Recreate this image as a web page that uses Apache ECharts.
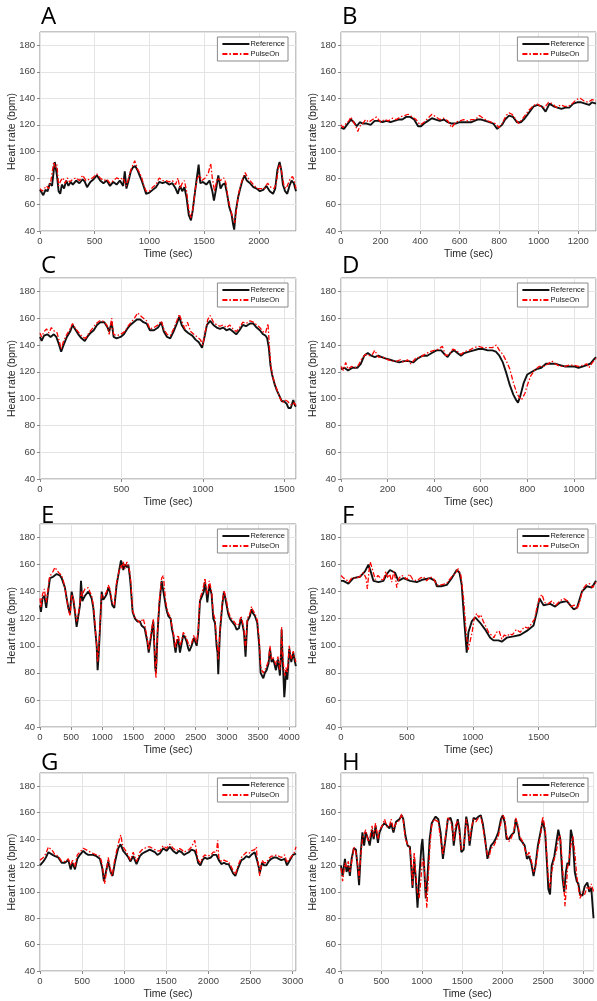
<!DOCTYPE html>
<html>
<head>
<meta charset="utf-8">
<script src="https://cdn.jsdelivr.net/npm/echarts@6/dist/echarts.min.js"></script>
<style>
html,body{margin:0;padding:0;background:#fff;}
#chart{width:597px;height:1001px;}
</style>
</head>
<body>
<div id="chart"></div>
<script>
// Heart-rate recordings: [time (s), bpm]
const refA = [[0,71],[15,69],[30,67],[50,71],[70,70],[90,76],[110,74],[125,85],[135,92],[145,93],[155,82],[170,70],[185,68],[200,75],[220,72],[240,78],[260,74],[280,77],[300,75],[330,78],[360,76],[390,79],[410,77],[430,73],[460,77],[490,79],[520,82],[550,78],[580,76],[610,78],[640,74],[670,77],[700,75],[730,78],[760,74],[775,85],[790,72],[810,78],[830,85],[850,88],[870,89],[890,86],[910,82],[930,78],[950,73],[970,68],[1000,69],[1030,71],[1060,73],[1090,77],[1120,76],[1150,77],[1180,75],[1210,76],[1240,72],[1260,68],[1280,74],[1300,70],[1320,73],[1340,65],[1360,52],[1380,48],[1395,55],[1410,65],[1430,78],[1450,90],[1465,76],[1490,77],[1520,75],[1550,78],[1575,70],[1590,63],[1610,72],[1630,82],[1650,72],[1670,75],[1690,76],[1710,68],[1730,58],[1750,53],[1765,45],[1775,41],[1790,55],[1810,65],[1830,72],[1850,78],[1870,82],[1890,78],[1920,76],[1950,73],[1980,72],[2010,70],[2040,71],[2070,74],[2100,70],[2130,68],[2150,72],[2170,86],[2190,92],[2205,86],[2220,75],[2240,70],[2260,68],[2280,74],[2300,78],[2320,76],[2340,70]];
const pulseA = [[0,72],[20,70],[40,72],[60,74],[80,72],[100,78],[115,86],[125,92],[140,88],[155,90],[170,74],[190,78],[210,80],[230,76],[250,80],[270,77],[300,79],[330,80],[360,78],[390,82],[420,78],[450,79],[480,80],[520,83],[550,80],[580,78],[610,79],[640,76],[670,78],[700,80],[730,79],[760,80],[790,74],[810,80],[830,86],[850,90],[866,93],[890,87],[910,84],[930,80],[950,74],[970,70],[1000,70],[1030,73],[1060,75],[1090,80],[1120,78],[1150,78],[1180,77],[1210,78],[1240,75],[1260,80],[1280,72],[1300,76],[1320,78],[1340,70],[1360,56],[1380,50],[1400,58],[1420,72],[1440,80],[1460,82],[1480,78],[1510,80],[1540,84],[1560,91],[1575,80],[1595,70],[1620,80],[1650,78],[1680,80],[1700,76],[1720,64],[1740,57],[1760,50],[1780,46],[1795,56],[1815,68],[1835,75],[1855,80],[1875,84],[1900,80],[1930,77],[1960,74],[1990,72],[2020,72],[2050,72],[2080,76],[2110,73],[2140,72],[2160,76],[2180,88],[2195,90],[2210,84],[2230,74],[2250,72],[2270,76],[2290,80],[2310,81],[2330,76],[2340,72]];

const refB = [[0,118],[15,117],[30,120],[50,124],[65,122],[80,119],[95,122],[110,121],[130,121],[150,120],[170,123],[190,123],[210,122],[230,123],[250,122],[270,123],[290,124],[310,124],[330,126],[350,126],[370,124],[390,119],[405,119],[420,121],[440,123],[460,125],[480,124],[500,123],[520,124],[540,122],[560,121],[580,121],[600,122],[630,122],[660,122],[690,124],[710,124],[730,123],[750,122],[770,121],[790,117],[800,117],[815,120],[830,124],[850,127],[870,126],[890,122],[910,122],[930,125],[950,129],[975,134],[995,135],[1015,134],[1035,130],[1055,136],[1075,134],[1095,133],[1115,132],[1135,133],[1155,133],[1175,136],[1195,137],[1215,137],[1235,136],[1255,135],[1270,137],[1290,136]];
const pulseB = [[0,120],[10,118],[25,121],[40,123],[50,126],[60,123],[75,119],[85,115],[95,119],[110,121],[125,124],[140,122],[160,124],[180,126],[200,122],[220,124],[240,123],[260,125],[280,124],[300,126],[320,127],[340,128],[360,126],[380,124],[400,120],[420,122],[440,125],[460,128],[480,126],[500,124],[520,125],[540,123],[560,118],[580,122],[600,123],[620,124],[640,123],[660,124],[680,124],[700,127],[720,125],[740,123],[760,122],[780,121],[800,118],[815,121],[835,127],[850,129],[865,128],[880,125],[900,121],[915,124],[930,127],[950,131],[970,134],[990,136],[1010,134],[1030,133],[1050,137],[1070,136],[1090,133],[1110,135],[1130,134],[1150,134],[1170,136],[1190,139],[1210,140],[1230,138],[1250,137],[1270,139],[1290,138]];

const refC = [[0,146],[10,143],[25,147],[45,148],[65,146],[85,148],[100,146],[115,141],[130,135],[145,140],[165,146],[185,150],[200,155],[215,152],[235,148],[255,145],[275,143],[290,146],[310,149],[330,151],[350,155],[370,157],[395,157],[415,153],[425,150],[440,157],[452,146],[470,145],[495,146],[515,148],[535,152],[555,155],[575,157],[595,159],[615,159],[635,157],[655,156],[675,151],[700,151],[725,153],[745,157],[760,150],[780,146],[800,145],[820,150],[840,156],[855,161],[870,155],[890,151],[910,149],[935,147],[955,144],[975,142],[995,138],[1010,146],[1025,155],[1045,158],[1065,155],[1085,153],[1105,152],[1125,153],[1145,151],[1165,152],[1185,150],[1205,148],[1225,151],[1245,155],[1265,154],[1290,156],[1310,156],[1330,153],[1350,151],[1370,148],[1385,147],[1395,145],[1405,138],[1415,125],[1425,118],[1440,111],[1455,106],[1470,102],[1485,98],[1500,98],[1515,96],[1525,93],[1540,93],[1555,99],[1565,95],[1572,94]];
const pulseC = [[0,149],[10,146],[25,150],[40,152],[55,149],[70,153],[90,150],[105,149],[118,143],[130,137],[145,143],[165,148],[185,152],[200,156],[220,152],[240,149],[260,146],[280,145],[300,149],[320,152],[345,156],[365,158],[385,158],[410,155],[425,148],[440,160],[452,148],[470,147],[495,148],[520,150],[540,154],[560,157],[580,160],[600,164],[615,162],[635,160],[655,158],[675,152],[700,153],[725,155],[745,158],[760,152],[780,148],[800,147],[820,152],[840,158],[855,163],[870,158],[890,152],[905,157],[925,150],[945,148],[965,146],[985,144],[1000,140],[1015,150],[1030,159],[1045,162],[1065,157],[1085,155],[1105,154],[1125,155],[1145,153],[1165,155],[1185,152],[1205,150],[1225,153],[1245,157],[1265,156],[1290,158],[1310,157],[1330,155],[1350,153],[1370,150],[1385,149],[1400,156],[1408,140],[1418,124],[1430,116],[1445,110],[1460,105],[1475,100],[1490,97],[1505,99],[1520,98],[1535,96],[1550,95],[1560,97],[1572,95]];

const refD = [[0,122],[15,123],[30,121],[50,123],[70,123],[85,126],[100,132],[115,134],[130,132],[145,131],[160,132],[175,131],[190,130],[210,129],[230,128],[250,127],[270,128],[290,128],[310,127],[330,130],[350,132],[370,132],[390,134],[410,136],[430,136],[445,133],[458,131],[470,134],[485,136],[500,134],[515,132],[530,134],[550,135],[570,136],[590,137],[610,137],[630,136],[650,136],[665,135],[680,132],[695,127],[710,119],[725,110],[740,103],[752,99],[760,97],[770,102],[785,112],[800,118],[820,120],[840,122],[860,123],[880,126],[900,126],[920,126],[940,125],[960,124],[980,124],[1000,124],[1020,123],[1040,124],[1055,125],[1070,126],[1085,129],[1095,131]];
const pulseD = [[0,124],[10,121],[20,127],[30,122],[45,124],[60,123],[75,125],[90,130],[105,133],[120,132],[135,133],[145,136],[160,131],[180,131],[200,129],[220,128],[240,128],[255,129],[270,127],[285,129],[300,126],[320,130],[340,131],[360,133],[380,135],[400,136],[420,137],[435,139],[450,132],[465,133],[480,137],[495,136],[515,133],[530,135],[550,136],[570,138],[590,139],[610,138],[630,138],[650,138],[667,140],[680,136],[695,133],[710,128],[725,122],[740,112],[755,104],[765,101],[775,99],[790,104],[800,110],[815,117],[830,121],[850,124],[870,124],[890,126],[905,128],[920,126],[940,124],[960,124],[980,125],[1000,125],[1020,124],[1040,125],[1055,126],[1065,123],[1080,127],[1095,130]];

const refE = [[0,130],[15,125],[40,135],[70,137],[100,128],[125,138],[160,150],[210,151],[267,153],[320,152],[348,150],[400,143],[428,135],[455,128],[480,124],[508,140],[535,134],[561,125],[588,114],[615,122],[642,130],[658,148],[680,133],[700,135],[722,137],[775,140],[800,138],[829,135],[856,128],[880,115],[910,100],[925,82],[940,92],[960,110],[990,140],[1016,134],[1045,136],[1070,138],[1096,143],[1123,140],[1160,130],[1193,128],[1230,145],[1268,155],[1300,163],[1320,160],[1337,156],[1364,160],[1395,158],[1418,160],[1440,152],[1455,145],[1487,125],[1525,120],[1562,118],[1580,117],[1605,118],[1630,115],[1658,116],[1680,113],[1696,113],[1723,103],[1745,95],[1766,95],[1792,110],[1819,118],[1835,100],[1850,84],[1862,80],[1875,95],[1888,110],[1915,130],[1953,148],[1980,148],[2017,130],[2040,125],[2060,122],[2097,120],[2120,112],[2140,108],[2160,100],[2177,95],[2200,103],[2220,105],[2247,95],[2275,102],[2300,108],[2330,106],[2354,103],[2380,98],[2397,96],[2434,100],[2472,106],[2500,102],[2515,100],[2541,110],[2568,133],[2605,137],[2630,140],[2648,147],[2670,140],[2686,132],[2718,145],[2755,138],[2782,120],[2809,117],[2835,100],[2850,95],[2862,79],[2875,95],[2889,110],[2926,130],[2953,140],[2975,135],[2996,130],[3020,124],[3050,120],[3080,118],[3103,117],[3130,115],[3157,112],[3194,113],[3226,120],[3250,116],[3275,110],[3300,92],[3328,118],[3371,122],[3397,127],[3420,124],[3451,122],[3488,117],[3520,100],[3542,80],[3560,80],[3585,76],[3610,80],[3638,82],[3670,87],[3692,98],[3718,88],[3740,90],[3756,88],[3788,82],[3820,90],[3852,78],[3870,95],[3879,112],[3895,90],[3906,80],[3922,62],[3935,70],[3948,82],[3970,75],[3985,85],[4002,98],[4020,92],[4034,88],[4066,95],[4085,90],[4108,85]];
const pulseE = [[0,135],[15,128],[40,138],[70,142],[100,132],[125,140],[150,150],[180,153],[210,155],[240,158],[270,156],[300,154],[330,155],[350,152],[380,147],[410,140],[435,133],[460,126],[485,122],[508,138],[535,135],[561,127],[588,118],[615,123],[642,132],[660,140],[680,136],[700,140],[722,142],[750,141],[775,143],[800,140],[829,137],[856,130],[880,118],[910,100],[925,88],[940,95],[960,112],[990,138],[1016,136],[1045,138],[1070,140],[1096,145],[1123,142],[1160,132],[1193,130],[1230,147],[1268,155],[1300,160],[1320,157],[1337,162],[1364,157],[1395,162],[1418,161],[1440,155],[1460,146],[1487,126],[1525,121],[1562,119],[1580,120],[1605,117],[1630,118],[1658,120],[1680,116],[1696,115],[1723,105],[1745,97],[1766,97],[1792,112],[1819,120],[1835,105],[1850,86],[1862,76],[1875,92],[1888,112],[1915,133],[1953,150],[1980,152],[2017,133],[2040,127],[2060,124],[2097,121],[2120,114],[2140,110],[2160,104],[2177,98],[2200,106],[2220,108],[2247,100],[2275,104],[2300,110],[2330,108],[2354,105],[2380,102],[2397,100],[2434,102],[2472,108],[2500,104],[2515,102],[2541,112],[2568,135],[2605,140],[2630,145],[2648,150],[2670,142],[2686,138],[2718,148],[2755,140],[2782,124],[2809,120],[2835,104],[2850,100],[2862,90],[2875,98],[2889,112],[2926,132],[2953,141],[2975,137],[2996,133],[3020,126],[3050,122],[3080,120],[3103,119],[3130,117],[3157,115],[3194,116],[3226,122],[3250,118],[3275,112],[3300,98],[3328,120],[3371,124],[3397,129],[3420,126],[3451,124],[3488,119],[3520,104],[3542,85],[3560,82],[3585,80],[3610,82],[3638,85],[3670,89],[3692,100],[3718,90],[3740,92],[3756,90],[3788,86],[3820,92],[3852,82],[3870,96],[3879,114],[3895,95],[3906,88],[3922,80],[3935,78],[3948,84],[3970,80],[3985,88],[4002,100],[4020,94],[4034,90],[4066,96],[4085,92],[4108,88]];

const refF = [[0,148],[18,148],[56,146],[94,150],[144,151],[182,155],[208,160],[225,155],[246,148],[284,147],[322,148],[347,153],[372,156],[410,154],[435,148],[473,150],[524,148],[575,147],[625,149],[676,150],[714,148],[727,144],[760,144],[803,145],[840,150],[878,156],[899,154],[916,145],[934,120],[954,95],[967,110],[992,118],[1018,121],[1056,117],[1094,112],[1132,106],[1157,104],[1195,104],[1220,103],[1258,106],[1309,107],[1359,108],[1410,111],[1461,115],[1486,125],[1506,135],[1537,130],[1587,131],[1625,129],[1663,132],[1714,133],[1739,130],[1765,127],[1790,128],[1828,140],[1866,144],[1904,143],[1935,148]];
const pulseF = [[0,152],[20,150],[40,149],[60,147],[80,150],[110,150],[140,151],[170,154],[190,150],[200,142],[212,155],[222,162],[240,156],[260,149],[280,152],[300,150],[320,148],[340,155],[355,150],[370,153],[385,147],[400,155],[415,149],[423,143],[440,150],[460,152],[480,151],[500,149],[520,153],[545,149],[575,148],[600,150],[625,151],[650,148],[676,151],[700,150],[714,149],[727,145],[760,145],[800,146],[840,151],[870,154],[890,157],[910,152],[930,135],[950,110],[965,97],[980,96],[995,110],[1010,120],[1030,124],[1045,121],[1060,123],[1080,118],[1100,114],[1120,110],[1140,108],[1160,106],[1180,110],[1200,111],[1220,105],[1240,108],[1260,107],[1280,109],[1300,108],[1330,112],[1360,110],[1390,114],[1420,113],[1450,117],[1470,120],[1490,130],[1510,136],[1525,138],[1545,132],[1570,131],[1600,133],[1630,130],[1660,133],[1690,135],[1720,133],[1745,129],[1770,130],[1790,127],[1810,132],[1835,142],[1860,145],[1885,146],[1910,143],[1935,147]];

const refG = [[0,120],[20,121],[40,123],[70,126],[100,130],[118,131],[150,128],[178,127],[217,126],[257,122],[296,122],[336,124],[364,117],[387,122],[415,117],[443,125],[474,128],[514,131],[545,129],[573,128],[600,128],[632,128],[670,127],[711,125],[739,118],[759,108],[783,115],[810,123],[838,115],[862,112],[889,122],[910,128],[929,133],[957,136],[988,131],[1028,128],[1050,126],[1075,123],[1107,127],[1146,121],[1186,127],[1215,129],[1245,130],[1275,131],[1304,132],[1334,131],[1364,130],[1394,128],[1423,129],[1463,133],[1502,131],[1542,134],[1581,131],[1621,129],[1650,131],[1680,130],[1710,128],[1739,129],[1770,130],[1799,132],[1838,131],[1860,127],[1878,122],[1905,120],[1930,124],[1957,126],[1985,125],[2008,124],[2030,126],[2056,128],[2095,128],[2123,124],[2154,121],[2185,122],[2214,121],[2240,121],[2261,120],[2293,114],[2320,112],[2352,118],[2392,124],[2420,125],[2451,127],[2480,126],[2510,128],[2550,130],[2577,124],[2600,118],[2609,114],[2637,122],[2660,120],[2688,120],[2715,123],[2747,125],[2780,126],[2807,126],[2835,125],[2866,124],[2906,125],[2933,120],[2950,122],[2973,123],[3004,128],[3040,129]];
const pulseG = [[0,124],[20,123],[40,126],[70,129],[100,134],[118,134],[150,131],[178,128],[217,127],[257,123],[296,123],[336,125],[364,120],[387,124],[415,119],[443,128],[474,130],[514,133],[545,132],[573,131],[600,130],[632,129],[670,128],[711,127],[739,121],[759,110],[770,106],[783,113],[810,126],[838,117],[850,112],[862,114],[889,125],[910,131],[929,136],[948,141],[960,143],[975,137],[988,134],[1028,130],[1050,127],[1075,124],[1107,130],[1146,123],[1186,130],[1215,132],[1245,133],[1275,134],[1304,134],[1334,133],[1364,132],[1394,131],[1423,131],[1463,135],[1502,133],[1542,136],[1581,133],[1621,131],[1650,133],[1680,132],[1710,130],[1739,131],[1770,132],[1799,134],[1838,139],[1860,130],[1878,124],[1905,122],[1930,126],[1957,128],[1985,127],[2008,126],[2030,128],[2056,130],[2095,130],[2110,139],[2123,126],[2154,123],[2185,124],[2214,123],[2240,123],[2261,122],[2293,116],[2320,113],[2352,120],[2392,126],[2420,128],[2451,130],[2480,129],[2510,131],[2550,132],[2570,134],[2577,127],[2600,118],[2609,112],[2637,124],[2660,122],[2688,122],[2715,125],[2747,127],[2780,127],[2807,128],[2835,127],[2866,126],[2906,128],[2933,122],[2950,124],[2973,125],[3004,128],[3020,130],[3040,134]];

const refH = [[0,120],[20,112],[49,125],[69,115],[90,120],[110,112],[131,125],[159,133],[184,132],[204,120],[224,105],[245,130],[265,145],[286,135],[306,145],[335,140],[355,135],[384,147],[404,140],[428,150],[457,137],[477,145],[510,150],[539,152],[571,150],[600,148],[620,152],[649,145],[681,153],[722,155],[751,158],[771,155],[796,143],[824,135],[853,134],[873,115],[885,103],[906,125],[926,110],[947,88],[967,110],[996,135],[1008,140],[1028,120],[1049,95],[1069,110],[1097,140],[1122,152],[1150,155],[1171,157],[1204,155],[1232,145],[1261,125],[1293,140],[1322,155],[1355,156],[1375,152],[1395,135],[1416,145],[1444,155],[1465,148],[1489,130],[1518,132],[1550,157],[1571,150],[1591,135],[1612,145],[1640,156],[1669,155],[1701,157],[1730,158],[1754,152],[1783,140],[1812,125],[1832,124],[1856,135],[1885,137],[1913,140],[1946,145],[1979,155],[2003,158],[2028,152],[2048,140],[2077,140],[2109,143],[2142,145],[2162,155],[2191,148],[2211,140],[2240,138],[2273,135],[2301,125],[2326,127],[2354,122],[2383,112],[2407,120],[2436,135],[2468,145],[2497,154],[2526,145],[2550,120],[2566,102],[2587,98],[2607,120],[2640,127],[2664,137],[2689,147],[2713,140],[2742,110],[2762,100],[2783,115],[2803,122],[2823,120],[2844,147],[2868,140],[2893,115],[2917,108],[2938,106],[2958,98],[2987,97],[3015,104],[3048,107],[3072,100],[3097,103],[3125,80]];
const pulseH = [[0,118],[20,108],[49,122],[69,118],[90,123],[110,115],[131,122],[159,134],[184,130],[204,122],[224,110],[245,128],[265,140],[286,140],[306,147],[335,138],[355,140],[384,150],[404,142],[428,152],[457,140],[477,147],[510,150],[539,155],[571,149],[600,150],[620,155],[649,147],[681,152],[722,154],[751,159],[771,154],[796,140],[824,136],[853,133],[873,120],[885,105],[906,130],[926,112],[947,100],[967,95],[990,110],[1008,125],[1028,122],[1049,100],[1062,88],[1080,110],[1100,135],[1122,150],[1150,155],[1171,156],[1204,153],[1232,140],[1261,128],[1293,142],[1322,156],[1355,154],[1375,148],[1395,138],[1416,150],[1444,154],[1465,145],[1489,132],[1518,134],[1550,155],[1571,148],[1591,138],[1612,148],[1640,155],[1669,153],[1701,156],[1730,157],[1754,150],[1783,138],[1812,128],[1832,126],[1856,133],[1885,134],[1913,138],[1946,142],[1979,152],[2003,158],[2028,155],[2048,143],[2077,138],[2109,141],[2142,147],[2162,156],[2191,150],[2211,142],[2240,139],[2273,133],[2301,127],[2326,130],[2354,124],[2383,115],[2407,118],[2436,132],[2468,142],[2497,157],[2526,148],[2550,125],[2566,110],[2587,103],[2607,115],[2640,125],[2664,130],[2689,140],[2713,143],[2742,118],[2762,100],[2772,89],[2790,105],[2803,118],[2823,125],[2844,135],[2868,142],[2893,130],[2917,112],[2938,103],[2958,95],[2987,100],[3015,98],[3048,104],[3072,102],[3097,106],[3125,100]];

const panelLabels = ['A','B','C','D','E','F','G','H'];
const refSeries = [refA, refB, refC, refD, refE, refF, refG, refH];
const pulseSeries = [pulseA, pulseB, pulseC, pulseD, pulseE, pulseF, pulseG, pulseH];
const timeMax = [2340, 1290, 1572, 1095, 4110, 1935, 3040, 3125];
const timeStep = [500, 200, 500, 200, 500, 500, 500, 500];
const hrMin = 40, hrMax = 190, hrStep = 20;
const seriesNames = ['Reference', 'PulseOn'];
const xTitle = 'Time (sec)';
const yTitle = 'Heart rate (bpm)';

// panel layout (pixels)
const colLeft = [40, 341];
const colWidth = [256, 255];
const rowTop = [32, 278, 524, 773];
const rowHeight = [199, 201, 203, 200];
const letterTop = [5, 254, 504, 751];

const FONT = 'Liberation Sans, Arial, sans-serif';
const plainNumber = v => String(v);
const grids = [], xAxes = [], yAxes = [], series = [], legends = [], titles = [];

panelLabels.forEach((lab, i) => {
  const col = i % 2, row = Math.floor(i / 2);
  const left = colLeft[col], top = rowTop[row], w = colWidth[col], h = rowHeight[row];
  grids.push({
    left: left, top: top, width: w, height: h,
    show: true, borderColor: '#8a8a8a', borderWidth: 1, backgroundColor: '#fff'
  });
  xAxes.push({
    type: 'value', gridIndex: i, min: 0, max: timeMax[i], interval: timeStep[i],
    axisLine: { show: false },
    axisTick: { show: true, inside: false, length: 3, lineStyle: { color: '#888' } },
    axisLabel: { fontSize: 9.5, color: '#444', margin: 5, showMaxLabel: false, fontFamily: FONT, formatter: plainNumber },
    splitLine: { show: true, lineStyle: { color: '#e4e4e4', width: 1 } },
    name: xTitle, nameLocation: 'middle', nameGap: 18, nameMoveOverlap: false,
    nameTextStyle: { fontSize: 10.5, color: '#262626', fontFamily: FONT }
  });
  yAxes.push({
    type: 'value', gridIndex: i, min: hrMin, max: hrMax, interval: hrStep,
    axisLine: { show: false },
    axisTick: { show: true, inside: false, length: 3, lineStyle: { color: '#888' } },
    axisLabel: { fontSize: 9.5, color: '#444', margin: 5, showMaxLabel: false, fontFamily: FONT, formatter: plainNumber },
    splitLine: { show: true, lineStyle: { color: '#e4e4e4', width: 1 } },
    name: yTitle, nameLocation: 'middle', nameGap: 22, nameMoveOverlap: false,
    nameTextStyle: { fontSize: 10.5, color: '#262626', fontFamily: FONT }
  });
  series.push({
    type: 'line', name: seriesNames[0], xAxisIndex: i, yAxisIndex: i,
    data: refSeries[i], symbol: 'none', z: 2,
    lineStyle: { color: '#111', width: 1.9 }, itemStyle: { color: '#111' }
  });
  series.push({
    type: 'line', name: seriesNames[1], xAxisIndex: i, yAxisIndex: i,
    data: pulseSeries[i], symbol: 'none', z: 3,
    lineStyle: { color: '#ff0000', width: 1.3, type: [5, 2, 1.5, 2] }, itemStyle: { color: '#ff0000' }
  });
  legends.push({
    data: seriesNames, orient: 'vertical', selectedMode: false,
    right: 597 - (left + w) + 8, top: top + 5,
    itemWidth: 27, itemHeight: 9, itemGap: 2, padding: [3, 3, 3, 4],
    borderColor: '#8a8a8a', borderWidth: 1, backgroundColor: '#fff',
    itemStyle: { opacity: 0 },
    textStyle: { fontSize: 7.5, color: '#222', fontFamily: FONT, padding: [0, 0, 0, -4] }
  });
  titles.push({
    text: lab, left: left + 1, top: letterTop[row], padding: 0,
    textStyle: { fontSize: 24, fontWeight: 'normal', color: '#000', fontFamily: 'Open Sans, DejaVu Sans, sans-serif' }
  });
});

const chart = echarts.init(document.getElementById('chart'), null, { renderer: 'canvas' });
chart.setOption({
  animation: false,
  backgroundColor: '#fff',
  title: titles,
  grid: grids,
  xAxis: xAxes,
  yAxis: yAxes,
  legend: legends,
  series: series
});
</script>
</body>
</html>
